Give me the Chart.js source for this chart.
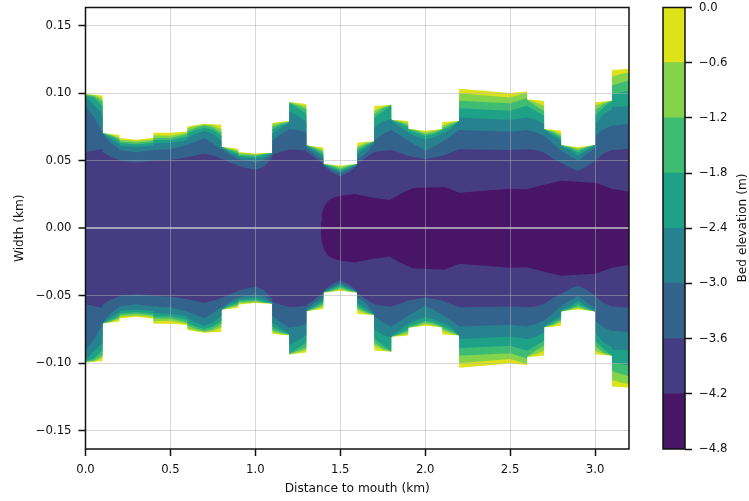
<!DOCTYPE html>
<html><head><meta charset="utf-8">
<style>html,body{margin:0;padding:0;background:#fff;width:749px;height:501px;overflow:hidden}
canvas{position:absolute;top:0}</style>
<script src="https://cdn.jsdelivr.net/npm/chart.js@4"></script>
</head><body>
<canvas id="main" width="640" height="501" style="left:0"></canvas>
<canvas id="bar" width="109" height="501" style="left:640px"></canvas>
<script>
const distance=[0,.05,.1,.1,.15,.2,.2,.3,.4,.4,.5,.6,.6,.65,.7,.75,.8,.8,.85,.9,.9,.95,1,1.05,1.1,
1.1,1.15,1.2,1.2,1.25,1.3,1.3,1.35,1.4,1.4,1.45,1.5,1.55,1.6,1.6,1.65,1.7,1.7,1.75,1.8,1.8,1.85,1.9,1.9,1.95,2,2.05,2.1,2.1,
2.15,2.2,2.2,2.5,2.6,2.6,2.65,2.7,2.7,2.75,2.8,2.8,2.85,2.9,2.95,3,3,3.05,3.1,3.1,3.15,3.2];
const edge=[.0994,.0989,.0984,.0705,.0698,.0690,.0668,.0656,.0670,.0707,.0707,.0717,.0754,.0764,.0774,.0771,.0767,.0604,.0596,.0589,.0564,.0559,.0554,.0557,.0557,
.0781,.0789,.0794,.0935,.0927,.0920,.0614,.0606,.0599,.0475,.0470,.0463,.0470,.0475,.0633,.0638,.0643,.0905,.0910,.0915,.0804,.0799,.0794,.0737,.0730,.0722,.0727,.0735,.0786,
.0791,.0794,.1033,.1001,.1013,.0954,.0949,.0942,.0734,.0729,.0722,.0616,.0608,.0601,.0608,.0616,.0934,.0939,.0944,.1172,.1176,.1181];
const contour06=[.0991,.0986,.0959,.0705,.0693,.0673,.0656,.0646,.0658,.0688,.0685,.0710,.0742,.0757,.0769,.0762,.0734,.0604,.0591,.0574,.0557,.0554,.0549,.0554,.0557,
.0771,.0784,.0791,.0935,.0920,.0902,.0614,.0601,.0579,.0475,.0468,.0455,.0468,.0475,.0606,.0633,.0643,.0870,.0900,.0915,.0804,.0794,.0779,.0737,.0727,.0710,.0722,.0735,.0759,
.0781,.0794,.0999,.0969,.1005,.0954,.0934,.0907,.0734,.0722,.0697,.0616,.0606,.0591,.0606,.0616,.0907,.0932,.0944,.1122,.1142,.1154];
const contour12=[.0989,.0979,.0939,.0705,.0688,.0660,.0643,.0633,.0646,.0668,.0668,.0698,.0722,.0744,.0762,.0747,.0710,.0604,.0584,.0564,.0547,.0544,.0539,.0552,.0557,
.0754,.0774,.0789,.0932,.0907,.0883,.0614,.0594,.0564,.0475,.0463,.0440,.0463,.0475,.0591,.0623,.0643,.0846,.0888,.0912,.0804,.0786,.0764,.0735,.0720,.0697,.0710,.0732,.0742,
.0769,.0794,.0944,.0925,.0964,.0949,.0907,.0870,.0734,.0715,.0682,.0616,.0601,.0579,.0601,.0616,.0870,.0920,.0944,.1058,.1078,.1097];
const contour18=[.0985,.0964,.0905,.0705,.0678,.0648,.0631,.0621,.0633,.0653,.0653,.0680,.0702,.0727,.0747,.0727,.0685,.0604,.0574,.0554,.0537,.0534,.0529,.0544,.0557,
.0732,.0762,.0786,.0925,.0890,.0846,.0614,.0584,.0549,.0475,.0455,.0430,.0455,.0475,.0574,.0611,.0643,.0816,.0865,.0910,.0804,.0777,.0747,.0732,.0707,.0685,.0697,.0725,.0727,
.0754,.0794,.0888,.0870,.0907,.0907,.0870,.0833,.0734,.0702,.0668,.0613,.0594,.0561,.0594,.0616,.0833,.0895,.0942,.0994,.1005,.1018];
const contour24=[.0975,.0910,.0848,.0702,.0660,.0623,.0611,.0604,.0613,.0628,.0633,.0653,.0668,.0698,.0722,.0698,.0648,.0604,.0559,.0539,.0525,.0520,.0515,.0529,.0554,
.0702,.0742,.0781,.0865,.0833,.0791,.0611,.0572,.0529,.0473,.0445,.0417,.0445,.0473,.0549,.0594,.0641,.0747,.0791,.0809,.0796,.0754,.0710,.0710,.0678,.0660,.0673,.0702,.0702,
.0732,.0794,.0821,.0801,.0821,.0821,.0806,.0771,.0732,.0685,.0648,.0608,.0579,.0537,.0579,.0613,.0771,.0846,.0883,.0899,.0900,.0907];
const contour30=[.0905,.0823,.0712,.0700,.0630,.0586,.0579,.0562,.0579,.0579,.0586,.0618,.0618,.0643,.0668,.0628,.0586,.0591,.0544,.0512,.0512,.0500,.0488,.0505,.0549,
.0648,.0697,.0735,.0735,.0727,.0710,.0599,.0549,.0505,.0473,.0436,.0405,.0436,.0473,.0512,.0554,.0628,.0648,.0697,.0727,.0727,.0690,.0648,.0648,.0611,.0574,.0604,.0643,.0643,
.0682,.0727,.0727,.0715,.0727,.0727,.0710,.0685,.0685,.0631,.0574,.0574,.0537,.0500,.0549,.0594,.0685,.0734,.0759,.0759,.0764,.0774];
const contour36=[.0564,.0576,.0589,.0564,.0527,.0505,.0500,.0488,.0500,.0500,.0505,.0525,.0525,.0539,.0554,.0537,.0517,.0517,.0488,.0463,.0463,.0446,.0433,.0456,.0525,
.0544,.0566,.0584,.0584,.0579,.0574,.0569,.0524,.0475,.0465,.0414,.0386,.0414,.0465,.0480,.0524,.0564,.0564,.0574,.0579,.0579,.0559,.0536,.0536,.0524,.0512,.0524,.0536,.0536,
.0561,.0586,.0586,.0579,.0586,.0586,.0579,.0561,.0561,.0517,.0487,.0487,.0450,.0426,.0455,.0500,.0500,.0554,.0579,.0579,.0584,.0589];
const deepDistance=[1.386,1.387,1.392,1.405,1.429,1.46,1.502,1.586,1.685,1.792,1.851,1.929,2.028,2.116,2.2,2.5,2.6,2.7,2.8,3.0,3.1,3.2];
const contour42=[0,.0050,.0105,.0160,.0204,.0225,.0240,.0253,.0228,.0209,.0253,.0298,.0302,.0305,.0263,.0293,.0289,.0322,.0352,.0337,.0293,.0270];
const bandColors=['#481567','#463c82','#33638d','#26828e','#1fa187','#3fbc73','#84d44b','#dde318'];
const levels=[-4.8,-4.2,-3.6,-3.0,-2.4,-1.8,-1.2,-0.6,0];
const xTicks=[0,.5,1,1.5,2,2.5,3];
const yTicks=[-.15,-.1,-.05,0,.05,.1,.15];
const FONT='"DejaVu Sans"';
const tickFont={family:FONT,size:11.7};
const titleFont={family:FONT,size:12.2};
const ink='#111';
const minus=s=>s.replace('-','\u2212');
const noPad=s=>{s.paddingTop=0;s.paddingBottom=0;s.paddingLeft=0;s.paddingRight=0;};
const frame={id:'frame',afterDraw(c){const a=c.chartArea,g=c.ctx;g.save();g.strokeStyle=ink;g.lineWidth=1.5;g.strokeRect(a.left,a.top,a.right-a.left,a.bottom-a.top);g.restore();}};

const rings=[[deepDistance,contour42,bandColors[0]],[distance,contour36,bandColors[1]],[distance,contour30,bandColors[2]],[distance,contour24,bandColors[3]],
[distance,contour18,bandColors[4]],[distance,contour12,bandColors[5]],[distance,contour06,bandColors[6]],[distance,edge,bandColors[7]]];
const datasets=[];
rings.forEach(([xs,ys,col])=>{
  [1,-1].forEach(sign=>datasets.push({data:xs.map((x,i)=>({x,y:sign*ys[i]})),showLine:true,fill:'origin',backgroundColor:col,borderColor:col,borderWidth:0,pointRadius:0}));
});
new Chart(document.getElementById('main'),{type:'scatter',data:{datasets},
 plugins:[frame],
 options:{responsive:false,animation:false,devicePixelRatio:1,events:[],
  layout:{padding:{top:7.5,right:11,left:0,bottom:0}},
  plugins:{legend:{display:false},tooltip:{enabled:false}},
  scales:{
   x:{type:'linear',min:0,max:3.2,afterBuildTicks:s=>{s.ticks=xTicks.map(value=>({value}))},afterFit:s=>{s.height=52;noPad(s);},
    grid:{z:1,color:'rgba(176,176,176,.5)',lineWidth:1,tickColor:ink,tickLength:7,tickWidth:1.5},border:{display:false},
    ticks:{font:tickFont,color:ink,padding:7,maxRotation:0,callback:v=>v.toFixed(1)},
    title:{display:true,text:'Distance to mouth (km)',font:titleFont,color:ink,padding:{top:4,bottom:5}}},
   y:{type:'linear',min:-.1635,max:.1635,afterBuildTicks:s=>{s.ticks=yTicks.map(value=>({value}))},afterFit:s=>{s.width=85.5;noPad(s);},
    grid:{z:1,color:c=>Math.abs(c.tick.value)<1e-9?'rgba(215,215,215,.65)':'rgba(176,176,176,.5)',lineWidth:c=>Math.abs(c.tick.value)<1e-9?2:1,tickColor:ink,tickLength:7,tickWidth:1.5},border:{display:false},
    ticks:{font:tickFont,color:ink,padding:7,callback:v=>minus(v.toFixed(2))},
    title:{display:true,text:'Width (km)',font:titleFont,color:ink,padding:{top:13,bottom:0}}}
  }}});

const barTitle={id:'barTitle',afterDraw(c){const g=c.ctx;g.save();g.translate(102.5,228);g.rotate(-Math.PI/2);g.font='12.2px '+FONT;g.fillStyle=ink;g.textAlign='center';g.textBaseline='middle';g.fillText('Bed elevation (m)',0,0);g.restore();}};
new Chart(document.getElementById('bar'),{type:'bar',
 data:{labels:[''],datasets:bandColors.map((col,i)=>({data:[[levels[i],levels[i+1]]],backgroundColor:col,borderWidth:0,grouped:false,barPercentage:1,categoryPercentage:1}))},
 plugins:[frame,barTitle],
 options:{responsive:false,animation:false,devicePixelRatio:1,events:[],
  layout:{padding:{top:7.5,left:23,right:0,bottom:52}},
  plugins:{legend:{display:false},tooltip:{enabled:false}},
  scales:{
   x:{display:false,afterFit:noPad},
   y:{position:'right',min:-4.8,max:0,afterBuildTicks:s=>{s.ticks=levels.map(value=>({value}))},afterFit:s=>{s.width=64;noPad(s);},
    grid:{drawOnChartArea:false,tickColor:ink,tickLength:7,tickWidth:1.5},border:{display:false},
    ticks:{font:tickFont,color:ink,padding:7,callback:v=>minus(v.toFixed(1))}}
  }}});
</script>
</body></html>
